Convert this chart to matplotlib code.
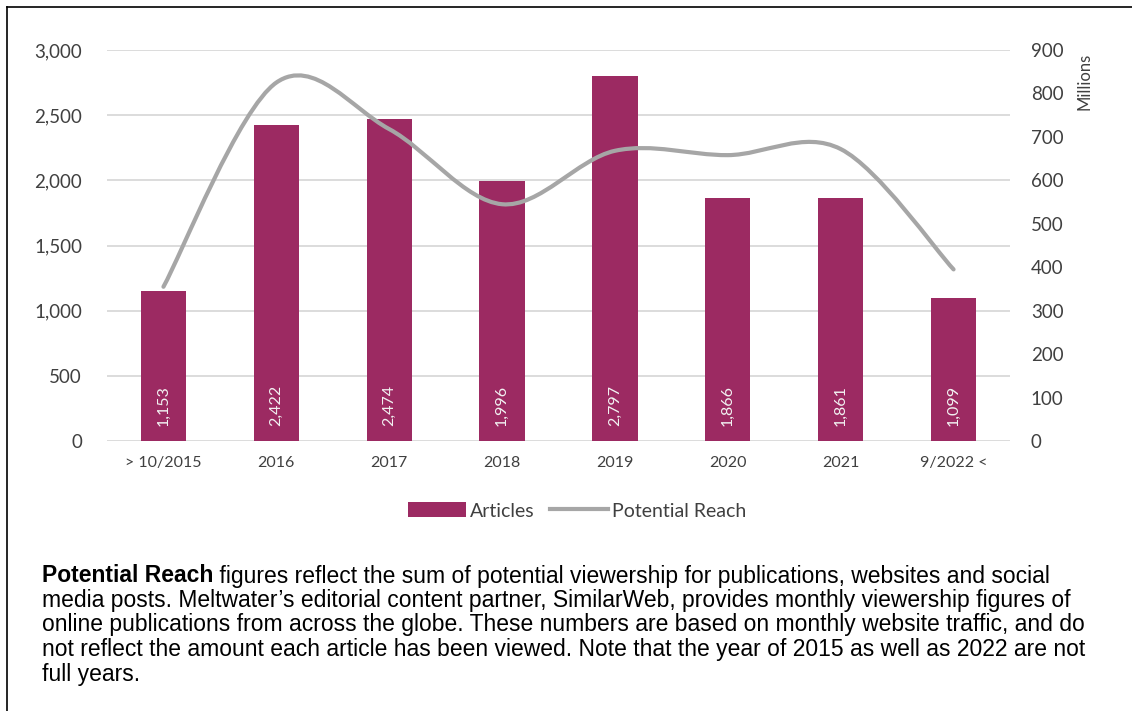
import matplotlib.pyplot as plt
from matplotlib.path import Path
from matplotlib.patches import PathPatch
from matplotlib.lines import Line2D
from matplotlib.ticker import FuncFormatter

# Articles per period and potential reach (millions)
periods = ['> 10/2015', '2016', '2017', '2018', '2019', '2020', '2021', '9/2022 <']
articles = [1153, 2422, 2474, 1996, 2797, 1866, 1861, 1099]
reach_millions = [355, 825, 718, 545, 668, 658, 672, 395]

bar_color = '#9C2A62'
line_color = '#A6A6A6'
grid_color = '#D9D9D9'
text_color = '#404040'
chart_font = ['Lato', 'DejaVu Sans']

fig = plt.figure(figsize=(11.32, 7.11), dpi=100)
ax = fig.add_axes([107 / 1132, 1 - 441 / 711, 903 / 1132, 391 / 711])
ax2 = ax.twinx()

x = list(range(len(periods)))
bars = ax.bar(x, articles, width=0.4, color=bar_color, zorder=2)
ax.set_xlim(-0.5, len(periods) - 0.5)
ax.set_ylim(0, 3000)
ax.set_yticks(range(0, 3001, 500))
ax.yaxis.set_major_formatter(FuncFormatter(lambda v, p: f'{int(v):,}'))
ax.set_xticks(x)
ax.set_xticklabels(periods)
ax.grid(axis='y', color=grid_color, linewidth=1.3, zorder=0)
ax.set_axisbelow(True)

# value labels written inside each bar
for xi, val in zip(x, articles):
    ax.annotate(f'{val:,}', (xi, 0), xytext=(0, 11), textcoords='offset points',
                rotation=90, ha='center', va='bottom', color='#F2F2F2',
                fontsize=11.5, family=chart_font, zorder=3)

# smoothed reach line, bezier segments built from neighbouring points
pts = list(zip(x, reach_millions))
verts = [pts[0]]
codes = [Path.MOVETO]
for i in range(len(pts) - 1):
    p0 = pts[i - 1] if i > 0 else pts[i]
    p1 = pts[i]
    p2 = pts[i + 1]
    p3 = pts[i + 2] if i + 2 < len(pts) else pts[i + 1]
    c1 = (p1[0] + (p2[0] - p0[0]) / 6, p1[1] + (p2[1] - p0[1]) / 6)
    c2 = (p2[0] - (p3[0] - p1[0]) / 6, p2[1] - (p3[1] - p1[1]) / 6)
    verts += [c1, c2, p2]
    codes += [Path.CURVE4] * 3
ax2.add_patch(PathPatch(Path(verts, codes), facecolor='none', edgecolor=line_color,
                        linewidth=3, capstyle='round', zorder=3))
ax2.set_ylim(0, 900)
ax2.set_yticks(range(0, 901, 100))
ax2.set_ylabel('Millions', fontsize=12, color=text_color, family=chart_font)
ax2.yaxis.set_label_coords(1.074, 0.92)

for a in (ax, ax2):
    for s in a.spines.values():
        s.set_visible(False)
    a.tick_params(length=0, labelsize=13.5, labelcolor=text_color)
    for lbl in a.get_xticklabels() + a.get_yticklabels():
        lbl.set_family(chart_font)
ax.tick_params(axis='y', pad=18)
ax.tick_params(axis='x', pad=11, labelsize=11.5)
ax2.tick_params(axis='y', pad=15)

handles = [bars, Line2D([], [], color=line_color, linewidth=3)]
fig.legend(handles, ['Articles', 'Potential Reach'], loc='center', ncol=2,
           bbox_to_anchor=(577 / 1132, 1 - 511 / 711), frameon=False,
           prop={'family': chart_font, 'size': 14}, labelcolor=text_color,
           handlelength=3.0, handleheight=0.8, handletextpad=0.2, columnspacing=0.8)

# note underneath the chart
note_lines = [
    (True, 'Potential Reach', ' figures reflect the sum of potential viewership for publications, websites and social'),
    (False, '', "media posts. Meltwater\u2019s editorial content partner, SimilarWeb, provides monthly viewership figures of"),
    (False, '', 'online publications from across the globe. These numbers are based on monthly website traffic, and do'),
    (False, '', 'not reflect the amount each article has been viewed. Note that the year of 2015 as well as 2022 are not'),
    (False, '', 'full years.'),
]
note_font = ['Liberation Sans', 'DejaVu Sans']
note_size = 16.5
y_px = 576
for bold, head, rest in note_lines:
    yf = 1 - y_px / 711
    if bold:
        t = fig.text(42 / 1132, yf, head, fontsize=note_size, weight='bold', family=note_font,
                     va='center', color='black')
        fig.canvas.draw()
        bb = t.get_window_extent()
        fig.text(bb.x1 / fig.bbox.width, yf, rest, fontsize=note_size, family=note_font,
                 va='center', color='black')
    else:
        fig.text(42 / 1132, yf, rest, fontsize=note_size, family=note_font, va='center', color='black')
    y_px += 24.5

# frame edges on left and top
fig.add_artist(Line2D([6.5 / 1132, 6.5 / 1132], [0, 1 - 7 / 711], color='black', linewidth=1.2))
fig.add_artist(Line2D([6.5 / 1132, 1], [1 - 7 / 711, 1 - 7 / 711], color='black', linewidth=1.2))

fig.savefig('out.png', dpi=100, facecolor='white')
